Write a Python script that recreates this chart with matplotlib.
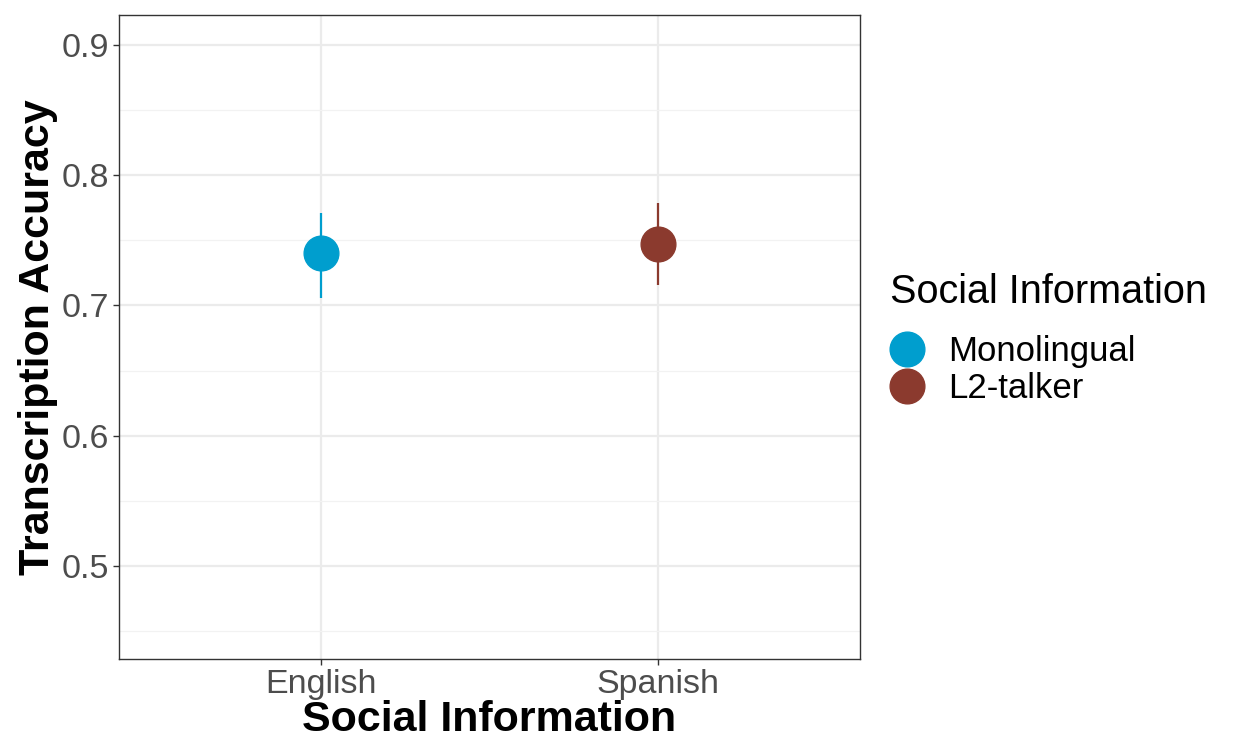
import matplotlib.pyplot as plt
import matplotlib.lines as mlines

plt.rcParams['font.family'] = ['Liberation Sans', 'DejaVu Sans']

# data
conditions = ["English", "Spanish"]
groups = ["Monolingual", "L2-talker"]
accuracy = [0.740, 0.747]
lower = [0.706, 0.716]
upper = [0.771, 0.779]
colors = ["#009ECE", "#8B3A2E"]

W, H = 1238, 740
fig = plt.figure(figsize=(W / 100, H / 100), dpi=100)
ax = fig.add_axes([119 / W, (H - 659) / H, 741 / W, 644 / H])

xpos = list(range(1, len(conditions) + 1))
for x, m, lo, hi, c in zip(xpos, accuracy, lower, upper, colors):
    ax.plot([x, x], [lo, hi], color=c, lw=1.6, zorder=3, solid_capstyle='butt')
    ax.plot(x, m, 'o', color=c, markersize=25, zorder=4)

ax.set_xlim(0.4, 2.6)
ax.set_ylim(0.4285, 0.923)
ax.set_xticks(xpos)
ax.set_xticklabels(conditions)
ax.set_yticks([0.5, 0.6, 0.7, 0.8, 0.9])
ax.set_yticks([0.45, 0.55, 0.65, 0.75, 0.85], minor=True)

ax.grid(True, which='major', color='#EBEBEB', lw=1.6, zorder=0)
ax.grid(True, which='minor', axis='y', color='#F2F2F2', lw=0.9, zorder=0)
ax.set_axisbelow(True)
for s in ax.spines.values():
    s.set_color('#333333')
    s.set_linewidth(1.0)

ax.tick_params(axis='both', which='major', labelsize=24.5, colors='#333333',
               labelcolor='#4D4D4D', length=4, width=1.0, pad=3)
ax.tick_params(axis='y', which='minor', length=0)

ax.set_xlabel("Social Information", fontsize=31, fontweight='bold', labelpad=0)
ax.set_ylabel("Transcription Accuracy", fontsize=31, fontweight='bold', labelpad=3)

# legend: title as separate text, keys below it
fig.text(890 / W, 1 - 292 / H, "Social Information", fontsize=28.5,
         ha='left', va='center')
handles = [mlines.Line2D([], [], marker='o', ls='', color=c, markersize=25)
           for c in colors]
leg = fig.legend(handles, groups, loc='upper left',
                 bbox_to_anchor=(890 / W, 1 - 335 / H),
                 frameon=False, fontsize=25, handlelength=1.0,
                 handletextpad=0.67, labelspacing=0.12,
                 borderaxespad=0, borderpad=0)

fig.savefig("out.png", dpi=100)
